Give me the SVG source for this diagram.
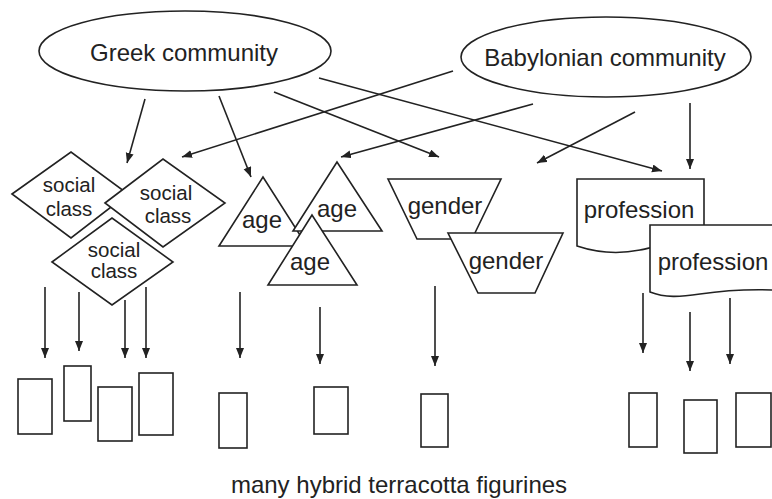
<svg xmlns="http://www.w3.org/2000/svg" width="772" height="499" viewBox="0 0 772 499">
<defs>
<marker id="ah" markerUnits="userSpaceOnUse" markerWidth="12" markerHeight="10" refX="10" refY="4" orient="auto">
<path d="M0,0 L10,4 L0,8 Z" fill="#222"/>
</marker>
<style>
.s{fill:#fff;stroke:#222;stroke-width:1.6}
.c line{stroke:#222;stroke-width:1.6;marker-end:url(#ah)}
text{font-family:"Liberation Sans",Arial,sans-serif;fill:#222;text-anchor:middle}
.big{font-size:24px}
.sm{font-size:20.5px}
</style>
</defs>
<rect width="772" height="499" fill="#fff"/>

<g id="greek">
<ellipse class="s" cx="185" cy="51" rx="146" ry="40"/>
<text class="big" x="184" y="61">Greek community</text>
</g>
<g id="babylonian">
<ellipse class="s" cx="606" cy="57" rx="145" ry="40"/>
<text class="big" x="605" y="66">Babylonian community</text>
</g>

<g id="social1">
<polygon class="s" points="12,194 71,152 128,194 71,238"/>
<text class="sm" x="69" y="192">social</text>
<text class="sm" x="69" y="216">class</text>
</g>
<g id="social2">
<polygon class="s" points="105,203 163,159 225,203 163,247"/>
<text class="sm" x="166" y="200">social</text>
<text class="sm" x="168" y="223">class</text>
</g>
<g id="social3">
<polygon class="s" points="52,262 112,218 173,262 112,305"/>
<text class="sm" x="114" y="257">social</text>
<text class="sm" x="114" y="278">class</text>
</g>

<g id="age1">
<polygon class="s" points="263,177 219,246 307,246"/>
<text class="big" x="262" y="228">age</text>
</g>
<g id="age2">
<polygon class="s" points="337,162 293,231 382,231"/>
<text class="big" x="337" y="217">age</text>
</g>
<g id="age3">
<polygon class="s" points="312,215 268,285 357,285"/>
<text class="big" x="310" y="270">age</text>
</g>

<g id="gender1">
<polygon class="s" points="388,179 501,179 472,239 417,239"/>
<text class="big" x="445" y="214">gender</text>
</g>
<g id="gender2">
<polygon class="s" points="448,233 563,233 535,293 478,293"/>
<text class="big" x="506" y="269">gender</text>
</g>

<g id="profession1">
<path class="s" d="M577,179 H704 V242 C680,240 660,246 640,250 C620,254 598,253 577,246 Z"/>
<text class="big" x="639" y="218">profession</text>
</g>
<g id="profession2">
<path class="s" d="M650,225 H774 V290 C745,289 720,291 700,294 C680,297 665,298 650,292 Z"/>
<text class="big" x="713" y="270">profession</text>
</g>

<g id="figurines">
<rect class="s" x="18" y="379" width="34" height="55"/>
<rect class="s" x="64" y="366" width="27" height="55"/>
<rect class="s" x="98" y="387" width="34" height="54"/>
<rect class="s" x="139" y="373" width="34" height="62"/>
<rect class="s" x="219" y="393" width="28" height="55"/>
<rect class="s" x="314" y="387" width="34" height="47"/>
<rect class="s" x="421" y="394" width="27" height="53"/>
<rect class="s" x="629" y="393" width="28" height="54"/>
<rect class="s" x="684" y="400" width="33" height="53"/>
<rect class="s" x="736" y="393" width="35" height="54"/>
</g>

<g id="caption">
<text class="big" x="399" y="493">many hybrid terracotta figurines</text>
</g>

<g id="connectors" class="c">
<line x1="145" y1="99" x2="127" y2="163"/>
<line x1="219" y1="96" x2="251" y2="177"/>
<line x1="274" y1="92" x2="439" y2="157"/>
<line x1="319" y1="78" x2="662" y2="171"/>
<line x1="453" y1="71" x2="182" y2="157"/>
<line x1="533" y1="104" x2="341" y2="157"/>
<line x1="635" y1="112" x2="537" y2="163"/>
<line x1="690" y1="103" x2="690" y2="169"/>
<line x1="45" y1="287" x2="45" y2="358"/>
<line x1="79" y1="292" x2="79" y2="351"/>
<line x1="125" y1="300" x2="125" y2="358"/>
<line x1="146" y1="287" x2="146" y2="358"/>
<line x1="240" y1="292" x2="240" y2="358"/>
<line x1="320" y1="307" x2="320" y2="364"/>
<line x1="435" y1="286" x2="435" y2="366"/>
<line x1="643" y1="293" x2="643" y2="353"/>
<line x1="690" y1="312" x2="690" y2="371"/>
<line x1="730" y1="298" x2="730" y2="364"/>
</g>
</svg>
